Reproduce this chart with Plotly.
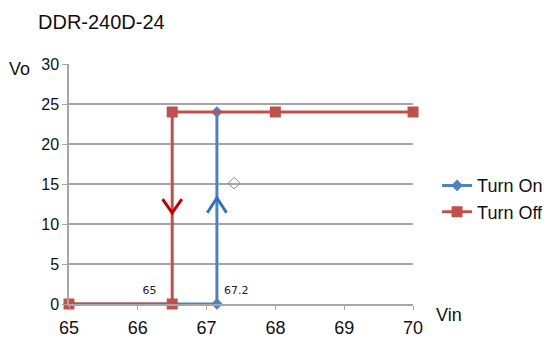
import plotly.graph_objects as go

# Data
turn_on_x = [65, 67.15, 67.15]
turn_on_y = [0, 0, 24]
turn_off_x = [65, 66.5, 66.5, 68, 70]
turn_off_y = [0, 0, 24, 24, 24]
x_ticks = [65, 66, 67, 68, 69, 70]
y_ticks = [0, 5, 10, 15, 20, 25, 30]

# Decorations (data coordinates)
down_arrow_x = [66.36, 66.5, 66.64]
down_arrow_y = [13.1, 11.4, 13.1]
up_arrow_x = [67.01, 67.15, 67.29]
up_arrow_y = [11.4, 13.25, 11.4]
marker_x = [67.4]
marker_y = [15.1]
label_texts = ["65", "67.2"]
label_x = [66.17, 67.43]
label_y = [1.6, 1.6]

BLUE = "#4f81bd"
RED = "#c0504d"
GRID = "#a6a6a6"

fig = go.Figure()
fig.add_trace(go.Scatter(x=turn_on_x, y=turn_on_y, mode="lines+markers", name="Turn On",
                         line=dict(color=BLUE, width=3),
                         marker=dict(symbol="diamond", size=9, color=BLUE), cliponaxis=False))
fig.add_trace(go.Scatter(x=turn_off_x, y=turn_off_y, mode="lines+markers", name="Turn Off",
                         line=dict(color=RED, width=3),
                         marker=dict(symbol="square", size=11, color=RED), cliponaxis=False))
fig.add_trace(go.Scatter(x=down_arrow_x, y=down_arrow_y, mode="lines", showlegend=False,
                         line=dict(color="#c00000", width=3), hoverinfo="skip"))
fig.add_trace(go.Scatter(x=up_arrow_x, y=up_arrow_y, mode="lines", showlegend=False,
                         line=dict(color="#2e75b6", width=3), hoverinfo="skip"))
fig.add_trace(go.Scatter(x=marker_x, y=marker_y, mode="markers", showlegend=False,
                         marker=dict(symbol="diamond-open", size=9, color="#8c8c8c",
                                     line=dict(width=1)), hoverinfo="skip"))
fig.add_trace(go.Scatter(x=label_x, y=label_y, mode="text", text=label_texts, showlegend=False,
                         textposition="middle center",
                         textfont=dict(family="DejaVu Sans", size=11, color="#222"),
                         hoverinfo="skip"))

fig.update_xaxes(range=[65, 70], tickvals=x_ticks, showgrid=False, zeroline=False,
                 showline=True, linecolor=GRID, linewidth=1.5, automargin=False,
                 ticks="outside", ticklen=4, tickcolor=GRID, ticklabelstandoff=3,
                 tickfont=dict(family="Liberation Sans", size=18, color="#111"))
fig.update_yaxes(range=[0, 30], tickvals=y_ticks, showgrid=True, gridcolor=GRID, gridwidth=1.5,
                 zeroline=False, showline=True, linecolor=GRID, linewidth=1.5, automargin=False,
                 ticks="outside", ticklen=5, tickcolor=GRID,
                 tickfont=dict(family="Liberation Sans", size=16, color="#111"))

fig.update_layout(
    width=550, height=344,
    margin=dict(l=69, r=137, t=64, b=40, autoexpand=False),
    paper_bgcolor="white", plot_bgcolor="white",
    showlegend=True,
    legend=dict(x=1.07, y=0.57, xanchor="left", yanchor="top",
                font=dict(family="Liberation Sans", size=18, color="#111"),
                tracegroupgap=0, itemwidth=30, bgcolor="rgba(0,0,0,0)"),
    annotations=[
        dict(text="DDR-240D-24", xref="paper", yref="paper", x=-0.095, y=1.175,
             xanchor="left", yanchor="middle", showarrow=False,
             font=dict(family="Liberation Sans", size=20, color="#111")),
        dict(text="Vo", xref="paper", yref="paper", x=-0.18, y=0.98,
             xanchor="left", yanchor="middle", showarrow=False,
             font=dict(family="Liberation Sans", size=18, color="#111")),
        dict(text="Vin", xref="paper", yref="paper", x=1.06, y=-0.045,
             xanchor="left", yanchor="middle", showarrow=False,
             font=dict(family="Liberation Sans", size=18, color="#111")),
    ],
)

fig.write_html("out.html")
